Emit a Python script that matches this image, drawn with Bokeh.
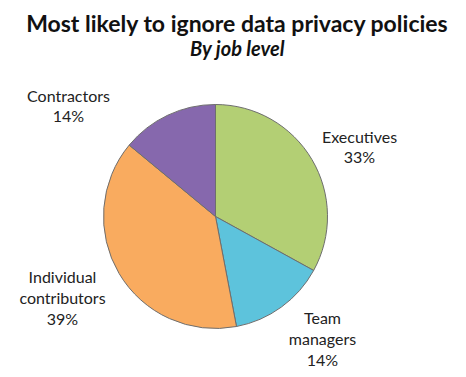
import math
from bokeh.plotting import figure
from bokeh.models import Range1d, ColumnDataSource
from bokeh.core.properties import value
from bokeh.embed import file_html
from bokeh.resources import INLINE

# ---- data ----
categories = ["Executives", "Team managers", "Individual contributors", "Contractors"]
shares = [33, 14, 39, 14]
colors = ["#b3cf74", "#5dc3dc", "#f9ab5f", "#8668ad"]
label_texts = ["Executives\n33%", "Team\nmanagers\n14%", "Individual\ncontributors\n39%", "Contractors\n14%"]

title_text = "Most likely to ignore data privacy policies"
subtitle_text = "By job level"

W, H = 466, 377
p = figure(width=W, height=H, output_backend="svg", toolbar_location=None,
           x_range=Range1d(0, W), y_range=Range1d(0, H), min_border=0,
           outline_line_color=None)
p.axis.visible = False
p.grid.visible = False
p.background_fill_color = "white"
p.border_fill_color = "white"

# wedges, clockwise from 12 o'clock
total = sum(shares)
starts, ends = [], []
cum = 0.0
for s in shares:
    a0 = math.pi / 2 - 2 * math.pi * cum / total
    cum += s
    a1 = math.pi / 2 - 2 * math.pi * cum / total
    starts.append(a0)
    ends.append(a1)

cx, cy, r = 215, 161, 112
src = ColumnDataSource(dict(start=starts, end=ends, color=colors, cat=categories))
p.wedge(x=cx, y=cy, radius=r, start_angle="start", end_angle="end", direction="clock",
        fill_color="color", line_color="#6e6e6e", line_width=1, source=src)

# labels
lx = [359, 322, 62, 68]
ly = [231, 39, 80, 272]
p.text(x=lx, y=ly, text=label_texts, text_font=value("Lato"), text_font_size="16px",
       text_color="#222222", text_align="center", text_baseline="middle",
       text_line_height=1.08)

p.text(x=[237], y=[355], text=[title_text], text_font=value("Lato"),
       text_font_size="23px", text_font_style="bold", text_color="#111111",
       text_align="center", text_baseline="middle")
p.text(x=[237], y=[330], text=[subtitle_text], text_font=value("Lato"),
       text_font_size="20px", text_font_style="bold italic", text_color="#111111",
       text_align="center", text_baseline="middle")

open("out.html", "w").write(file_html(p, INLINE))
